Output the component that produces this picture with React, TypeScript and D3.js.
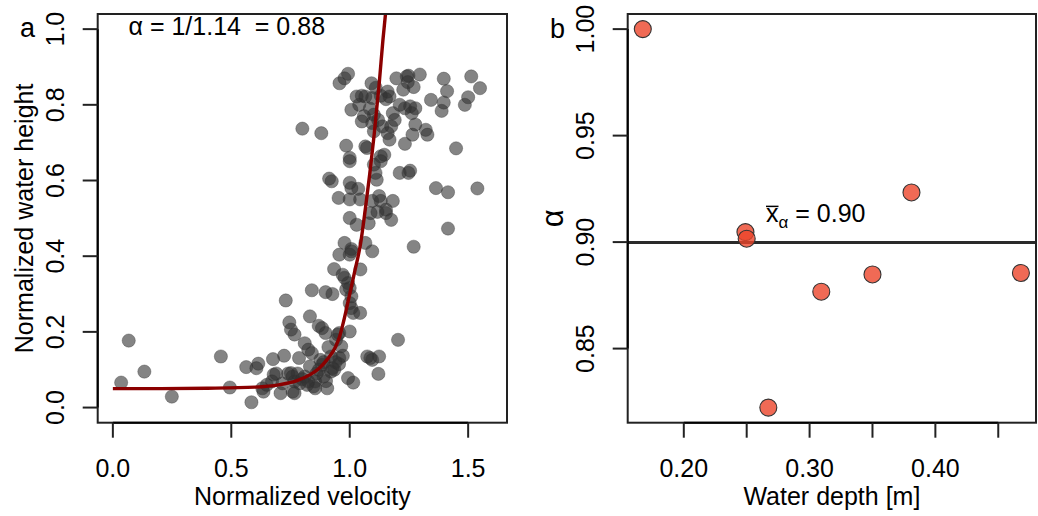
import React from "react";
import * as d3 from "d3";

// panel a: measured points (normalized velocity, normalized water height)
const velocity = [
  0.8, 0.88, 0.957, 0.978, 0.993, 1.092, 1.16, 1.168, 1.197, 1.241,
  1.248, 1.296, 1.27, 1.226, 1.397, 1.411, 1.397, 1.388, 1.343, 1.513,
  1.55, 1.5, 1.486, 1.539, 1.364, 1.415, 1.415, 1.449, 1.27, 1.211,
  1.248, 1.255, 1.233, 1.265, 1.277, 1.321, 1.328, 1.233, 1.255, 1.277,
  1.262, 1.211, 1.182, 1.153, 1.131, 1.029, 1.051, 1.066, 1.095, 1.007,
  1.051, 1.102, 1.095, 1.102, 1.138, 1.16, 1.168, 1.175, 1.19, 0.985,
  1.066, 1.073, 1.0, 1.0, 1.131, 1.146, 1.131, 1.102, 1.109, 1.114,
  0.913, 0.924, 1.0, 1.007, 1.036, 0.953, 1.0, 1.044, 1.095, 1.124,
  1.131, 1.182, 1.153, 1.0, 1.029, 1.08, 1.088, 1.117, 1.153, 1.175,
  0.978, 1.007, 1.066, 1.095, 1.04, 1.085, 1.11, 1.06, 1.245, 1.12,
  0.956, 1.0, 1.007, 0.934, 1.045, 0.97, 0.978, 0.993, 1.0, 0.985,
  1.007, 1.0, 1.007, 1.015, 1.044, 0.84, 0.898, 0.927, 0.73, 0.832,
  0.745, 0.752, 0.767, 0.869, 0.883, 0.898, 0.956, 1.0, 1.204, 0.067,
  0.133, 0.035, 0.249, 0.456, 0.494, 0.585, 0.563, 0.606, 0.614, 0.631,
  0.636, 0.676, 0.679, 0.672, 0.723, 0.716, 0.786, 0.81, 0.708, 0.752,
  0.759, 0.767, 0.759, 0.767, 0.789, 0.825, 0.84, 0.832, 0.854, 0.847,
  0.854, 0.81, 0.825, 0.876, 0.883, 0.89, 0.905, 0.921, 0.927, 0.956,
  0.971, 0.964, 0.942, 0.95, 0.993, 1.015, 1.074, 1.087, 1.095, 1.124,
  1.121, 0.921, 0.87, 0.89, 0.86, 0.78, 0.8, 0.74, 0.65, 0.69,
  0.94, 0.91, 0.9, 0.935, 0.82, 0.955,
];
const height = [
  0.737, 0.725, 0.857, 0.87, 0.882, 0.857, 0.835, 0.822, 0.87, 0.875,
  0.877, 0.88, 0.847, 0.84, 0.869, 0.836, 0.806, 0.784, 0.813, 0.875,
  0.844, 0.82, 0.8, 0.579, 0.58, 0.569, 0.473, 0.685, 0.425, 0.62,
  0.62, 0.626, 0.697, 0.721, 0.748, 0.734, 0.721, 0.791, 0.796, 0.791,
  0.778, 0.8, 0.778, 0.815, 0.824, 0.822, 0.824, 0.822, 0.818, 0.787,
  0.756, 0.774, 0.752, 0.73, 0.743, 0.725, 0.708, 0.743, 0.76, 0.692,
  0.69, 0.686, 0.66, 0.651, 0.664, 0.668, 0.651, 0.642, 0.62, 0.602,
  0.605, 0.598, 0.594, 0.58, 0.578, 0.554, 0.55, 0.55, 0.546, 0.559,
  0.546, 0.546, 0.523, 0.501, 0.483, 0.487, 0.514, 0.517, 0.514, 0.496,
  0.435, 0.419, 0.435, 0.413, 0.8, 0.79, 0.845, 0.77, 0.86, 0.76,
  0.404, 0.404, 0.413, 0.366, 0.365, 0.351, 0.343, 0.329, 0.316, 0.312,
  0.294, 0.276, 0.263, 0.25, 0.25, 0.31, 0.305, 0.3, 0.283, 0.241,
  0.225, 0.206, 0.193, 0.216, 0.21, 0.197, 0.197, 0.201, 0.179, 0.177,
  0.095, 0.066, 0.029, 0.135, 0.053, 0.014, 0.107, 0.104, 0.116, 0.051,
  0.042, 0.128, 0.087, 0.069, 0.137, 0.064, 0.131, 0.17, 0.038, 0.091,
  0.082, 0.069, 0.042, 0.038, 0.064, 0.153, 0.144, 0.109, 0.069, 0.056,
  0.051, 0.082, 0.069, 0.126, 0.113, 0.082, 0.051, 0.135, 0.104, 0.131,
  0.137, 0.162, 0.179, 0.193, 0.078, 0.066, 0.135, 0.131, 0.126, 0.135,
  0.089, 0.095, 0.1, 0.12, 0.09, 0.09, 0.075, 0.09, 0.06, 0.09,
  0.12, 0.16, 0.07, 0.1, 0.06, 0.115,
];

// fitted curve
const curveVelocity = [
  0, 0.2, 0.4, 0.6, 0.7, 0.78, 0.833, 0.87, 0.906, 0.94, 0.957, 0.975,
  0.994, 1.023, 1.045, 1.067, 1.085, 1.103, 1.125, 1.14, 1.151, 1.16,
];
const curveHeight = [
  0.05, 0.05, 0.051, 0.054, 0.06, 0.072, 0.087, 0.103, 0.128, 0.16, 0.187,
  0.23, 0.283, 0.365, 0.43, 0.53, 0.62, 0.72, 0.86, 0.97, 1.04, 1.1,
];

// panel b
const depth = [0.1674, 0.249, 0.25, 0.2672, 0.3093, 0.35, 0.381, 0.468];
const alpha = [1.0, 0.9047, 0.9016, 0.8223, 0.8767, 0.8848, 0.9233, 0.8855];

const xTicksA = [0, 0.5, 1, 1.5];
const yTicksA = [0, 0.2, 0.4, 0.6, 0.8, 1.0];
const xTicksB = [0.2, 0.25, 0.3, 0.35, 0.4, 0.45];
const xLabelsB = [0.2, 0.3, 0.4];
const yTicksB = [0.85, 0.9, 0.95, 1.0];

const W = 1038;
const H = 516;
const top = 14;
const bottom = 422.7;
const font = "'Liberation Sans', Arial, Helvetica, sans-serif";
const fs = 25;
const tick = 15;

const App = () => {
  const xA = d3.scaleLinear().domain([-0.064, 1.664]).range([97.7, 507]);
  const yA = d3.scaleLinear().domain([-0.04, 1.04]).range([bottom, top]);
  const xB = d3.scaleLinear().domain([0.1554, 0.48]).range([627.7, 1036]);
  const yB = d3.scaleLinear().domain([0.8152, 1.0071]).range([bottom, top]);

  const curve = d3
    .line<number>()
    .x((d) => xA(d))
    .y((d, i) => yA(curveHeight[i]))
    .curve(d3.curveMonotoneX);

  const meanAlpha = d3.mean(alpha) as number;
  const f1 = d3.format(".1f");
  const f2 = d3.format(".2f");

  const box = (x: any) => (
    <rect
      x={x.range()[0]}
      y={top}
      width={x.range()[1] - x.range()[0]}
      height={bottom - top}
      fill="none"
      stroke="#222"
      strokeWidth={2}
    />
  );

  const xAxis = (x: any, ticks: number[], labels: number[], fmt: any) => (
    <g>
      <line x1={x(ticks[0])} x2={x(ticks[ticks.length - 1])} y1={bottom} y2={bottom} stroke="#000" strokeWidth={2} />
      {ticks.map((t) => (
        <line key={t} x1={x(t)} x2={x(t)} y1={bottom} y2={bottom + tick} stroke="#222" strokeWidth={2} />
      ))}
      {labels.map((t) => (
        <text key={t} x={x(t)} y={477} textAnchor="middle" fontSize={fs}>
          {fmt(t)}
        </text>
      ))}
    </g>
  );

  const yAxis = (x0: number, y: any, ticks: number[], fmt: any) => (
    <g>
      <line x1={x0} x2={x0} y1={y(ticks[0])} y2={y(ticks[ticks.length - 1])} stroke="#000" strokeWidth={2} />
      {ticks.map((t) => (
        <g key={t}>
          <line x1={x0 - tick} x2={x0} y1={y(t)} y2={y(t)} stroke="#222" strokeWidth={2} />
          <text
            transform={`translate(${x0 - 34},${y(t)}) rotate(-90)`}
            textAnchor="middle"
            fontSize={fs}
          >
            {fmt(t)}
          </text>
        </g>
      ))}
    </g>
  );

  const xL = 766;
  const yL = yB(meanAlpha) - 20.5;

  return (
    <svg
      width={W}
      height={H}
      style={{ position: "absolute", left: 0, top: 0, background: "#fff" }}
      fontFamily={font}
    >
      <defs>
        <clipPath id="clipA">
          <rect x={97.7} y={top} width={507 - 97.7} height={bottom - top} />
        </clipPath>
      </defs>

      {/* panel a */}
      <g>
        {velocity.map((v, i) => (
          <circle
            key={i}
            cx={xA(v)}
            cy={yA(height[i])}
            r={6.6}
            fill="rgba(50,50,50,0.6)"
            stroke="rgba(50,50,50,0.35)"
            strokeWidth={1}
          />
        ))}
        <path
          d={curve(curveVelocity) || ""}
          fill="none"
          stroke="#8B0000"
          strokeWidth={3.4}
          clipPath="url(#clipA)"
        />
        {box(xA)}
        {xAxis(xA, xTicksA, xTicksA, f1)}
        {yAxis(97.7, yA, yTicksA, f1)}
        <text x={xA(0.066)} y={35} fontSize={fs} style={{ whiteSpace: "pre" }}>
          {"α = 1/1.14  = 0.88"}
        </text>
        <text x={302.3} y={505} textAnchor="middle" fontSize={fs}>
          Normalized velocity
        </text>
        <text transform={`translate(33,218.4) rotate(-90)`} textAnchor="middle" fontSize={fs}>
          Normalized water height
        </text>
        <text x={27.5} y={37} textAnchor="middle" fontSize={fs + 2}>
          a
        </text>
      </g>

      {/* panel b */}
      <g>
        <line
          x1={xB.range()[0]}
          x2={xB.range()[1]}
          y1={yB(meanAlpha)}
          y2={yB(meanAlpha)}
          stroke="#2a2a2a"
          strokeWidth={3}
        />
        {depth.map((d, i) => (
          <circle
            key={i}
            cx={xB(d)}
            cy={yB(alpha[i])}
            r={8.5}
            fill="rgba(236,69,43,0.8)"
            stroke="#333"
            strokeWidth={1.1}
          />
        ))}
        {box(xB)}
        {xAxis(xB, xTicksB, xLabelsB, f2)}
        {yAxis(627.7, yB, yTicksB, f2)}
        <text x={xL} y={yL} fontSize={fs}>
          x
          <tspan fontSize={17} dy={6}>
            α
          </tspan>
          <tspan dy={-6}>{" = " + f2(meanAlpha)}</tspan>
        </text>
        <line x1={xL} x2={xL + 12.5} y1={yL - 15.5} y2={yL - 15.5} stroke="#000" strokeWidth={1.5} />
        <text x={831.9} y={505} textAnchor="middle" fontSize={fs}>
          Water depth [m]
        </text>
        <text transform={`translate(563,218.4) rotate(-90)`} textAnchor="middle" fontSize={31}>
          α
        </text>
        <text x={557.5} y={38} textAnchor="middle" fontSize={fs + 2}>
          b
        </text>
      </g>
    </svg>
  );
};

export default App;
